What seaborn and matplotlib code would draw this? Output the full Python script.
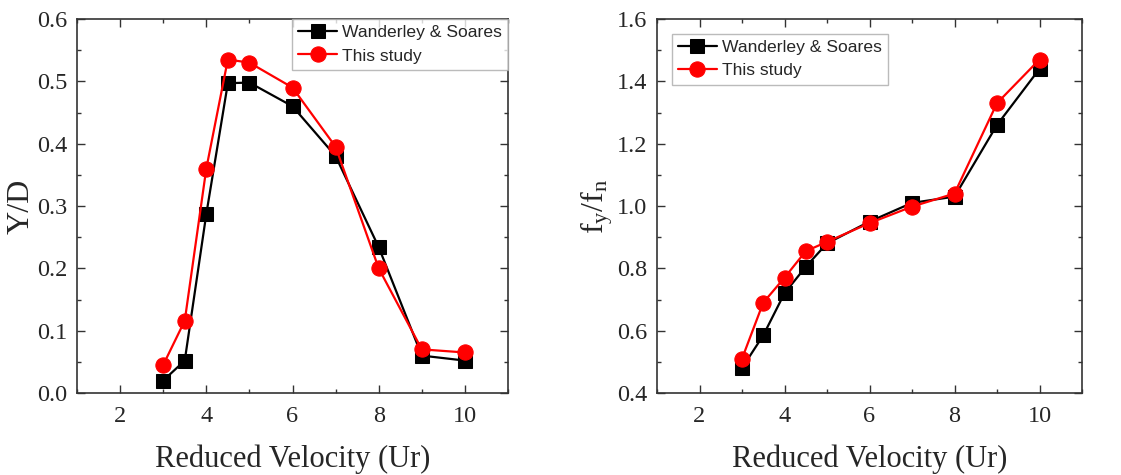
import matplotlib
matplotlib.use("Agg")
import matplotlib.pyplot as plt
from matplotlib.ticker import MultipleLocator, FormatStrFormatter
import seaborn as sns
import pandas as pd

ur = [3, 3.5, 4, 4.5, 5, 6, 7, 8, 9, 10]
amp_ws = [0.020, 0.052, 0.287, 0.497, 0.498, 0.460, 0.380, 0.234, 0.060, 0.052]
amp_study = [0.045, 0.116, 0.360, 0.535, 0.530, 0.490, 0.395, 0.200, 0.070, 0.065]
freq_ws = [0.480, 0.585, 0.720, 0.805, 0.880, 0.950, 1.010, 1.030, 1.260, 1.440]
freq_study = [0.510, 0.690, 0.770, 0.855, 0.885, 0.945, 0.998, 1.040, 1.330, 1.470]
labels = ["Wanderley & Soares", "This study"]

sns.set_theme(style="ticks")
plt.rcParams["font.family"] = ["Liberation Serif", "DejaVu Serif"]
plt.rcParams["mathtext.fontset"] = "custom"
plt.rcParams["mathtext.rm"] = "Liberation Serif"
plt.rcParams["mathtext.it"] = "Liberation Serif"

fig = plt.figure(figsize=(11.21, 4.75), dpi=100)
ax1 = fig.add_axes([77/1121, 82/475, 431/1121, 374/475])
ax2 = fig.add_axes([657/1121, 82/475, 425/1121, 374/475])

def draw(ax, ws, st, ylim, ymaj, ymin, ylabel, ylx, legloc, legpad):
    df_ws = pd.DataFrame({"x": ur, "y": ws})
    df_st = pd.DataFrame({"x": ur, "y": st})
    sns.lineplot(data=df_ws, x="x", y="y", ax=ax, color="black", marker="s",
                 markersize=10, linewidth=1.6, markeredgecolor="black",
                 label=labels[0])
    sns.lineplot(data=df_st, x="x", y="y", ax=ax, color="#ff0000", marker="o",
                 markersize=11, linewidth=1.6, markeredgecolor="#ff0000",
                 label=labels[1])
    ax.set_xlim(1, 11)
    ax.set_ylim(*ylim)
    ax.xaxis.set_major_locator(MultipleLocator(2))
    ax.xaxis.set_minor_locator(MultipleLocator(1))
    ax.yaxis.set_major_locator(MultipleLocator(ymaj))
    ax.yaxis.set_minor_locator(MultipleLocator(ymin))
    ax.yaxis.set_major_formatter(FormatStrFormatter("%.1f"))
    ax.tick_params(which="both", direction="in", top=True, right=True,
                   labelsize=17.5, width=1.0, color="#333333")
    ax.tick_params(which="major", length=6)
    ax.tick_params(which="minor", length=3)
    ax.tick_params(axis="x", which="major", pad=9)
    ax.tick_params(axis="y", which="major", pad=7)
    for s in ax.spines.values():
        s.set_linewidth(1.2)
        s.set_color("#333333")
    ax.set_xlabel("Reduced Velocity (Ur)", fontsize=22, labelpad=13)
    ax.set_ylabel(ylabel, fontsize=23)
    ax.yaxis.set_label_coords(ylx, 0.5)
    leg = ax.legend(loc=legloc, frameon=True, fancybox=False,
                    handlelength=2.2, borderpad=0.35, labelspacing=0.45,
                    handletextpad=0.3, borderaxespad=legpad,
                    prop={"family": "Liberation Sans", "size": 12.6})
    leg.get_frame().set_edgecolor("#aaaaaa")
    leg.get_frame().set_linewidth(1.0)

draw(ax1, amp_ws, amp_study, (0, 0.6), 0.1, 0.05, "Y/D", -0.097,
     "upper right", 0.0)
draw(ax2, freq_ws, freq_study, (0.4, 1.6), 0.2, 0.1,
     r"$\mathregular{f_y/f_n}$", -0.099, "upper left", 0.85)

fig.savefig("out.png", dpi=100)
